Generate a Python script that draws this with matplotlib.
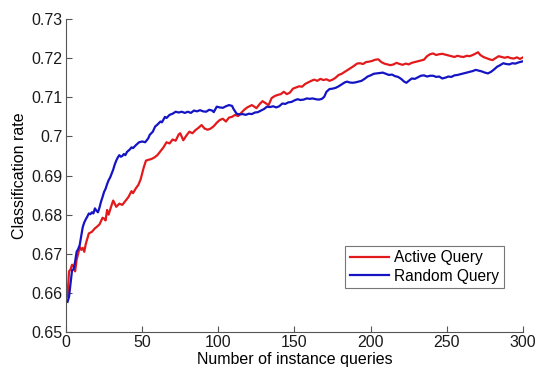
import matplotlib
matplotlib.use("Agg")
import matplotlib.pyplot as plt

plt.rcParams['font.family'] = ['Liberation Sans', 'DejaVu Sans']

# Active query: (query count, classification rate)
active_x = [1, 2, 3, 4, 5, 6, 7, 8, 9, 10, 11, 12, 13, 15, 17, 19, 20, 22, 24, 25,
            26, 27, 28, 30, 31, 33, 35, 37, 39, 41, 43, 44, 46, 47.5, 49, 50, 51, 52.5, 54, 56,
            58, 60, 62, 64, 66, 68, 70, 72, 74, 75, 77, 79, 81, 83, 85, 87, 89, 91, 93, 95,
            97, 99, 101, 103, 105, 107, 109, 111, 113, 115, 117, 119, 121, 122, 124, 125, 127, 129, 131, 133,
            135, 137, 139, 141, 143, 145, 147, 149, 151, 153, 155, 157, 159, 161, 163, 165, 167, 169, 171, 173,
            175, 177, 179, 181, 183, 185, 187, 189, 191, 193, 195, 197, 199, 201, 203, 205, 207, 209, 211, 213,
            215, 217, 219, 221, 223, 225, 227, 229, 231, 233, 235, 237, 239, 241, 243, 245, 247, 249, 251, 253,
            255, 257, 259, 261, 263, 265, 267, 269, 270.5, 272, 274, 276, 278, 280, 282, 284, 286, 288, 290, 292,
            294, 296, 298, 300]
active_y = [0.659, 0.6655, 0.666, 0.6672, 0.6668, 0.6655, 0.6685, 0.670, 0.6718, 0.671, 0.6715, 0.6705, 0.6725, 0.6752, 0.6756, 0.6765, 0.6768, 0.6775, 0.6792, 0.679,
            0.6785, 0.6812, 0.680, 0.6825, 0.6836, 0.682, 0.6828, 0.6825, 0.6835, 0.6845, 0.686, 0.6855, 0.6868, 0.6876, 0.689, 0.6905, 0.692, 0.6938, 0.694, 0.6942,
            0.6946, 0.6952, 0.6962, 0.6972, 0.6985, 0.6982, 0.6992, 0.6989, 0.7005, 0.7008, 0.699, 0.7002, 0.7012, 0.7008, 0.7016, 0.7022, 0.7029, 0.702, 0.7017, 0.702,
            0.7026, 0.7035, 0.7042, 0.7045, 0.7038, 0.7048, 0.705, 0.7055, 0.7052, 0.706, 0.7068, 0.7074, 0.7078, 0.708, 0.7075, 0.7072, 0.7082, 0.709, 0.7085, 0.708,
            0.7098, 0.7103, 0.7106, 0.7108, 0.7114, 0.7108, 0.7112, 0.7122, 0.7125, 0.7128, 0.7127, 0.7134, 0.7138, 0.7142, 0.7145, 0.7142, 0.7147, 0.7144, 0.7146, 0.7142,
            0.7145, 0.715, 0.7157, 0.716, 0.7165, 0.717, 0.7175, 0.718, 0.7186, 0.7187, 0.7185, 0.719, 0.7191, 0.7193, 0.7196, 0.7197, 0.719, 0.7186, 0.7184, 0.7182,
            0.7184, 0.7188, 0.7185, 0.7183, 0.7186, 0.7184, 0.7188, 0.719, 0.7192, 0.7194, 0.7196, 0.7205, 0.721, 0.7212, 0.7208, 0.721, 0.7211, 0.7209, 0.7207, 0.7205,
            0.7203, 0.7206, 0.7204, 0.7203, 0.7206, 0.7205, 0.7208, 0.7212, 0.7215, 0.7208, 0.7203, 0.72, 0.7197, 0.7195, 0.72, 0.7205, 0.7203, 0.7201, 0.7203, 0.72,
            0.7199, 0.7202, 0.7198, 0.7202]

# Random query
random_x = [1, 2, 3, 4, 5, 6, 7, 8, 9, 10, 11, 12, 13, 14, 15, 16, 17, 18, 19, 20,
            21, 22, 23, 24, 25, 26, 27, 28, 29, 30, 31, 32, 33, 34, 35, 36, 37, 38, 39, 40,
            42, 43, 44, 46, 48, 50, 52, 54, 55, 57, 58.5, 60, 62, 63, 65, 66, 68, 70, 72, 74,
            76, 78, 80, 82, 84, 86, 88, 90, 92, 94, 96, 97, 99, 101, 103, 105, 107, 109, 110, 112,
            114, 116, 118, 120, 122, 124, 126, 128, 130, 132, 134, 136, 138, 140, 142, 144, 146, 148, 150, 152,
            154, 156, 158, 160, 162, 164, 166, 168, 169.5, 171, 173, 175, 177, 179, 181, 183, 184.5, 186, 188, 190,
            192, 194, 196, 198, 200, 202, 204, 206, 208, 210, 212, 214, 216, 218, 220, 222, 223.5, 225, 227, 229,
            231, 233, 235, 237, 239, 241, 243, 245, 247, 249, 251, 253, 255, 257, 259, 261, 263, 265, 267, 269,
            271, 273, 275, 277, 279, 281, 283, 285, 287, 289, 291, 293, 295, 297, 299, 300]
random_y = [0.6577, 0.659, 0.6625, 0.6658, 0.666, 0.668, 0.6705, 0.6712, 0.6722, 0.6745, 0.6768, 0.678, 0.6788, 0.6795, 0.6803, 0.6801, 0.6806, 0.6803, 0.6816, 0.681,
            0.6806, 0.6818, 0.6833, 0.6845, 0.6858, 0.6866, 0.6878, 0.6888, 0.6895, 0.6905, 0.6915, 0.6928, 0.6938, 0.6946, 0.6952, 0.6948, 0.695, 0.6955, 0.6952, 0.696,
            0.6967, 0.6972, 0.697, 0.6978, 0.6985, 0.6987, 0.6985, 0.6995, 0.7004, 0.7012, 0.7025, 0.703, 0.7038, 0.7036, 0.705, 0.7047, 0.7055, 0.7058, 0.7063, 0.7061,
            0.7063, 0.706, 0.7063, 0.706, 0.7066, 0.7064, 0.7067, 0.7064, 0.7063, 0.7068, 0.7066, 0.7062, 0.7076, 0.7074, 0.7073, 0.7077, 0.708, 0.7078, 0.707, 0.7058,
            0.7056, 0.7057, 0.7055, 0.7058, 0.7057, 0.7061, 0.7062, 0.7066, 0.707, 0.7076, 0.7075, 0.7077, 0.7074, 0.7077, 0.7084, 0.7083, 0.7087, 0.7088, 0.7092, 0.7095,
            0.7093, 0.7094, 0.7097, 0.7096, 0.7097, 0.7095, 0.7094, 0.7096, 0.7101, 0.7114, 0.7121, 0.7122, 0.7124, 0.7128, 0.7133, 0.7138, 0.714, 0.7138, 0.7137, 0.7138,
            0.714, 0.7142, 0.7147, 0.7153, 0.7156, 0.716, 0.7161, 0.7162, 0.7163, 0.716, 0.7157, 0.7158, 0.7154, 0.7152, 0.7147, 0.714, 0.7137, 0.7142, 0.7148, 0.7147,
            0.7151, 0.7155, 0.7156, 0.7153, 0.7155, 0.7155, 0.7152, 0.7153, 0.7148, 0.715, 0.7153, 0.7152, 0.7156, 0.7157, 0.7159, 0.7161, 0.7163, 0.7165, 0.7167, 0.717,
            0.7168, 0.7166, 0.7163, 0.7161, 0.7165, 0.7171, 0.7178, 0.7182, 0.7187, 0.7185, 0.7184, 0.7187, 0.7186, 0.7189, 0.7191, 0.7192]

x_ticks = [0, 50, 100, 150, 200, 250, 300]
y_ticks = [0.65, 0.66, 0.67, 0.68, 0.69, 0.7, 0.71, 0.72, 0.73]
y_tick_labels = ['0.65', '0.66', '0.67', '0.68', '0.69', '0.7', '0.71', '0.72', '0.73']

fig = plt.figure(figsize=(5.39, 3.70), dpi=100)
ax = fig.add_axes([0.1224, 0.1027, 0.8479, 0.8459])

ax.plot(active_x, active_y, color='#e31a1c', lw=1.6, label='Active Query')
ax.plot(random_x, random_y, color='#1414c4', lw=1.6, label='Random Query')

ax.set_xlim(0, 300)
ax.set_ylim(0.65, 0.73)
ax.set_xticks(x_ticks)
ax.set_yticks(y_ticks)
ax.set_yticklabels(y_tick_labels)

for side in ['top', 'right']:
    ax.spines[side].set_visible(False)
for side in ['left', 'bottom']:
    ax.spines[side].set_color('#555555')
    ax.spines[side].set_linewidth(0.8)
ax.tick_params(direction='in', length=4, width=0.8, color='#555555',
               labelsize=11.5, labelcolor='#1a1a1a', pad=2.5)

ax.set_xlabel('Number of instance queries', fontsize=11.5, labelpad=1)
ax.set_ylabel('Classification rate', fontsize=11.5, labelpad=3)

leg = ax.legend(loc='lower right', bbox_to_anchor=(0.958, 0.14), borderaxespad=0,
                fontsize=11.2, fancybox=False, handlelength=2.5, handletextpad=0.35,
                borderpad=0.3, labelspacing=0.2)
leg.get_frame().set_edgecolor('#555555')
leg.get_frame().set_linewidth(0.8)

fig.savefig('out.png', dpi=100)
